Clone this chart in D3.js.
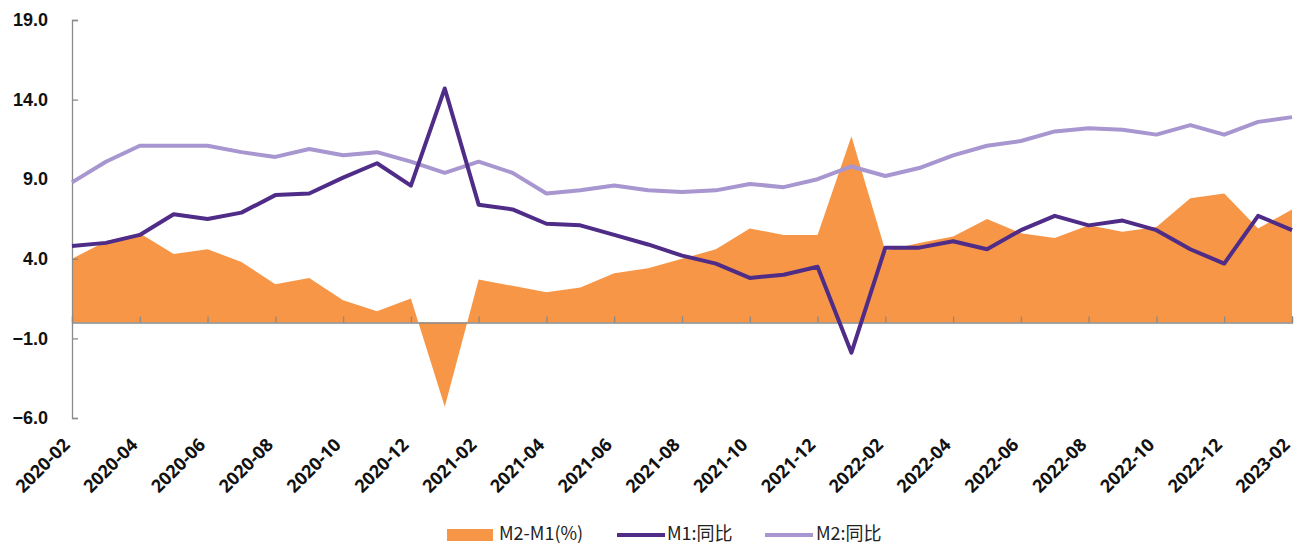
<!DOCTYPE html>
<html>
<head>
<meta charset="utf-8">
<script src="https://cdn.jsdelivr.net/npm/d3@7"></script>
<style>
  body { margin: 0; background: #fff; }
  svg { font-family: "Noto Sans", "Noto Sans CJK SC", sans-serif; }
  .tickLabel { font-weight: bold; font-size: 18px; fill: #111; }
  .legendText { font-family: "Noto Sans CJK SC", sans-serif; font-size: 18px; fill: #222; }
</style>
</head>
<body>
<div id="chart"></div>
<script>
// months on the x axis
var months = ["2020-02","2020-03","2020-04","2020-05","2020-06","2020-07","2020-08","2020-09","2020-10","2020-11","2020-12",
  "2021-01","2021-02","2021-03","2021-04","2021-05","2021-06","2021-07","2021-08","2021-09","2021-10","2021-11","2021-12",
  "2022-01","2022-02","2022-03","2022-04","2022-05","2022-06","2022-07","2022-08","2022-09","2022-10","2022-11","2022-12",
  "2023-01","2023-02"];

// M1 yoy
var m1 = [4.8, 5.0, 5.5, 6.8, 6.5, 6.9, 8.0, 8.1, 9.1, 10.0, 8.6,
  14.7, 7.4, 7.1, 6.2, 6.1, 5.5, 4.9, 4.2, 3.7, 2.8, 3.0, 3.5,
  -1.9, 4.7, 4.7, 5.1, 4.6, 5.8, 6.7, 6.1, 6.4, 5.8, 4.6, 3.7,
  6.7, 5.8];

// M2 yoy
var m2 = [8.8, 10.1, 11.1, 11.1, 11.1, 10.7, 10.4, 10.9, 10.5, 10.7, 10.1,
  9.4, 10.1, 9.4, 8.1, 8.3, 8.6, 8.3, 8.2, 8.3, 8.7, 8.5, 9.0,
  9.8, 9.2, 9.7, 10.5, 11.1, 11.4, 12.0, 12.2, 12.1, 11.8, 12.4, 11.8,
  12.6, 12.9];

// M2-M1 spread
var spread = [4.0, 5.1, 5.6, 4.3, 4.6, 3.8, 2.4, 2.8, 1.4, 0.7, 1.5,
  -5.3, 2.7, 2.3, 1.9, 2.2, 3.1, 3.4, 4.0, 4.6, 5.9, 5.5, 5.5,
  11.7, 4.5, 5.0, 5.4, 6.5, 5.6, 5.3, 6.1, 5.7, 6.0, 7.8, 8.1,
  5.9, 7.1];

var yTicks = [-6, -1, 4, 9, 14, 19];

var svgWidth = 1299;
var svgHeight = 545;

var margin = { top: 20, right: 7, bottom: 127, left: 72 };
var width = svgWidth - margin.left - margin.right;
var height = svgHeight - margin.top - margin.bottom;

var svg = d3.select("#chart")
  .append("svg")
  .attr("width", svgWidth)
  .attr("height", svgHeight);

var chartGroup = svg.append("g")
  .attr("transform", `translate(${margin.left}, ${margin.top})`);

// scales
var xScale = d3.scalePoint()
  .domain(months)
  .range([0, width]);

var yScale = d3.scaleLinear()
  .domain([-6, 19])
  .range([height, 0]);

var axisColor = "#8a8a8a";

// area for the spread
var area = d3.area()
  .x((d, i) => xScale(months[i]))
  .y0(yScale(0))
  .y1(d => yScale(d));

chartGroup.append("path")
  .datum(spread)
  .attr("d", area)
  .attr("fill", "#F79646");

// y axis
var leftAxis = d3.axisLeft(yScale)
  .tickValues(yTicks)
  .tickSize(-6)
  .tickPadding(24)
  .tickFormat(d3.format(".1f"));

var yAxisG = chartGroup.append("g").call(leftAxis);
yAxisG.select(".domain").attr("stroke", axisColor).attr("stroke-width", 1.3);
yAxisG.selectAll(".tick line").attr("stroke", axisColor).attr("stroke-width", 1.3);
yAxisG.selectAll(".tick text")
  .attr("class", "tickLabel")
  .attr("font-family", null)
  .attr("font-size", null);

// x axis on zero line, inward ticks
var tickMonths = months.filter((d, i) => i % 2 === 0);
var bottomAxis = d3.axisBottom(xScale)
  .tickValues(tickMonths)
  .tickSize(-6)
  .tickFormat("");

var xAxisG = chartGroup.append("g")
  .attr("transform", `translate(0, ${yScale(0)})`)
  .call(bottomAxis);
xAxisG.select(".domain").attr("stroke", axisColor).attr("stroke-width", 1.3);
xAxisG.selectAll(".tick line").attr("stroke", axisColor).attr("stroke-width", 1.3);

// rotated month labels
chartGroup.append("g").selectAll("text")
  .data(tickMonths)
  .enter()
  .append("text")
  .attr("class", "tickLabel")
  .attr("text-anchor", "end")
  .attr("transform", d => `translate(${xScale(d) - 1}, ${height + 28}) rotate(-45)`)
  .text(d => d);

// lines
var line = d3.line()
  .x((d, i) => xScale(months[i]))
  .y(d => yScale(d));

chartGroup.append("path")
  .datum(m2)
  .attr("d", line)
  .attr("fill", "none")
  .attr("stroke", "#A796CF")
  .attr("stroke-width", 4)
  .attr("stroke-linejoin", "round");

chartGroup.append("path")
  .datum(m1)
  .attr("d", line)
  .attr("fill", "none")
  .attr("stroke", "#4E2C87")
  .attr("stroke-width", 4)
  .attr("stroke-linejoin", "round");

// legend
var legend = svg.append("g");
legend.append("rect")
  .attr("x", 447).attr("y", 529)
  .attr("width", 46).attr("height", 12)
  .attr("fill", "#F79646");
legend.append("text")
  .attr("class", "legendText")
  .attr("x", 499).attr("y", 540)
  .text("M2-M1(%)");

legend.append("line")
  .attr("x1", 617).attr("x2", 665)
  .attr("y1", 535).attr("y2", 535)
  .attr("stroke", "#4E2C87").attr("stroke-width", 4);
legend.append("text")
  .attr("class", "legendText")
  .attr("x", 667).attr("y", 540)
  .text("M1:同比");

legend.append("line")
  .attr("x1", 765).attr("x2", 813)
  .attr("y1", 535).attr("y2", 535)
  .attr("stroke", "#A796CF").attr("stroke-width", 4);
legend.append("text")
  .attr("class", "legendText")
  .attr("x", 816).attr("y", 540)
  .text("M2:同比");
</script>
</body>
</html>
